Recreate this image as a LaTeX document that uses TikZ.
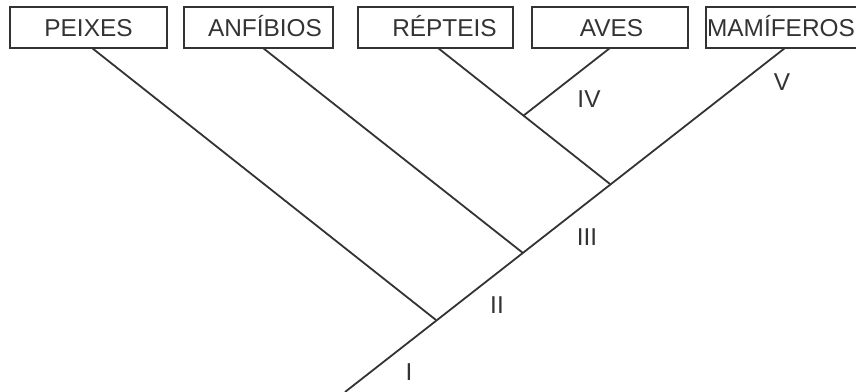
\documentclass[tikz,border=0pt]{standalone}
\usepackage{fontspec}
\setmainfont{Liberation Sans}
\begin{document}
\begin{tikzpicture}[x=1pt,y=-1pt,
  taxon/.style={draw=black!80, line width=1.6pt, minimum height=41pt,
    inner sep=0pt, text height=17.5pt, text depth=0pt,
    font=\fontsize{24.4}{28}\selectfont, text=black!80},
  branch/.style={draw=black!80, line width=1.8pt},
  clade/.style={font=\fontsize{24.4}{28}\selectfont, text=black!80,
    inner sep=0pt, text height=17.5pt, text depth=0pt}]
  \useasboundingbox (0,0) rectangle (856,391);

  % taxa along the top
  \node[taxon, minimum width=157pt] (peixes) at (88.5,27.5) {PEIXES};
  \node[taxon, minimum width=149pt] (anfibios) at (258.5,27.5) {\hspace*{13pt}ANFÍBIOS};
  \node[taxon, minimum width=155pt] (repteis) at (435.5,27.5) {\hspace*{18pt}RÉPTEIS};
  \node[taxon, minimum width=156pt] (aves) at (610,27.5) {\hspace*{3pt}AVES};
  \node[taxon, minimum width=156pt] (mamiferos) at (784,27.5) {MAMÍFEROS\hspace*{6pt}};

  % branch ends under the boxes and the nodes of the tree
  \coordinate (root) at (345,392);
  \coordinate (tPei) at (92,48);
  \coordinate (tAnf) at (263,48);
  \coordinate (tRep) at (438,48);
  \coordinate (tAve) at (610,48);
  \coordinate (tMam) at (785,48);
  \coordinate (n1) at (436,320);
  \coordinate (n2) at (523,253);
  \coordinate (n3) at (610,184);
  \coordinate (n4) at (523,116);

  % main stem and side branches
  \draw[branch] (root) -- (tMam);
  \draw[branch] (n1) -- (tPei);
  \draw[branch] (n2) -- (tAnf);
  \draw[branch] (n3) -- (tRep);
  \draw[branch] (n4) -- (tAve);

  % clade labels
  \node[clade] (lI) at (409,372) {I};
  \node[clade] (lII) at (497,305) {II};
  \node[clade] (lIII) at (587,237) {III};
  \node[clade] (lIV) at (589,99) {IV};
  \node[clade] (lV) at (782,82) {V};
\end{tikzpicture}
\end{document}
